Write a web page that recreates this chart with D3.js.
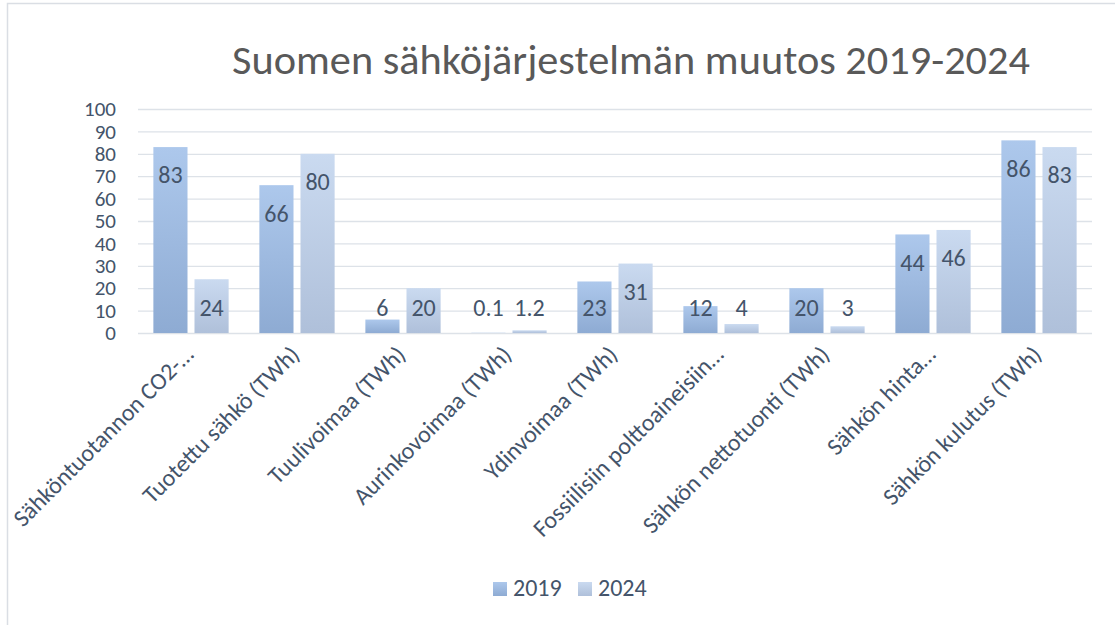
<!DOCTYPE html>
<html>
<head>
<meta charset="utf-8">
<script src="https://cdn.jsdelivr.net/npm/d3@7"></script>
<style>
  body { margin: 0; background: #fff; }
  text { font-family: Carlito, "Open Sans", sans-serif; }
</style>
</head>
<body>
<div id="chart"></div>
<script>
// data
let categories = [
    "Sähköntuotannon CO2-…",
    "Tuotettu sähkö (TWh)",
    "Tuulivoimaa (TWh)",
    "Aurinkovoimaa (TWh)",
    "Ydinvoimaa (TWh)",
    "Fossiilisiin polttoaineisiin…",
    "Sähkön nettotuonti (TWh)",
    "Sähkön hinta…",
    "Sähkön kulutus (TWh)"
]
let years = ["2019", "2024"]
let values2019 = [83, 66, 6, 0.1, 23, 12, 20, 44, 86]
let values2024 = [24, 80, 20, 1.2, 31, 4, 3, 46, 83]
let yTicks = [0, 10, 20, 30, 40, 50, 60, 70, 80, 90, 100]
let title = "Suomen sähköjärjestelmän muutos 2019-2024"

let W = 1115, H = 625
let margin = { top: 109, right: 23, bottom: 292, left: 138 },
    width = W - margin.left - margin.right,
    height = H - margin.top - margin.bottom

let textCol = "#44546a"

let svgRoot = d3.select("#chart")
    .append("svg")
    .attr("width", W)
    .attr("height", H)

// chart border (only left / top visible)
svgRoot.append("path")
    .attr("d", "M7.5," + H + "V3.5H" + W)
    .attr("fill", "none")
    .attr("stroke", "#dadee4")
    .attr("stroke-width", 1.5)

// gradients
let defs = svgRoot.append("defs")
let grads = { "2019": ["#adc8ec", "#8eabd3"], "2024": ["#cadaf0", "#afc0da"] }
years.forEach((yr) => {
    let g = defs.append("linearGradient")
        .attr("id", "g" + yr)
        .attr("x1", 0).attr("y1", 0).attr("x2", 0).attr("y2", 1)
    g.append("stop").attr("offset", "0%").attr("stop-color", grads[yr][0])
    g.append("stop").attr("offset", "100%").attr("stop-color", grads[yr][1])
})

// title
svgRoot.append("text")
    .attr("x", 631)
    .attr("y", 74)
    .attr("text-anchor", "middle")
    .attr("fill", "#595959")
    .style("font-size", "41px")
    .attr("textLength", 798)
    .attr("lengthAdjust", "spacingAndGlyphs")
    .text(title)

let svg = svgRoot.append("g")
    .attr("transform", "translate(" + margin.left + "," + margin.top + ")")

let x0 = d3.scaleBand()
    .domain(categories)
    .range([0, width])
    .paddingInner(0.29)
    .paddingOuter(0.145)

let x1 = d3.scaleBand()
    .domain(years)
    .range([0, x0.bandwidth()])
    .paddingInner(0.17)

let y = d3.scaleLinear()
    .domain([0, 100])
    .range([height, 0])

// gridlines + y labels
let yAxis = svg.append("g")
    .call(d3.axisLeft(y).tickValues(yTicks).tickSize(-width).tickPadding(22))
yAxis.select(".domain").remove()
yAxis.selectAll(".tick line")
    .attr("stroke", "#dde2e8")
    .attr("stroke-width", 1.3)
yAxis.selectAll(".tick text")
    .attr("fill", textCol)
    .style("font-size", "21px")

let rows = categories.map((c, i) => {
    return { cat: c, vals: [{ yr: "2019", v: values2019[i] }, { yr: "2024", v: values2024[i] }] }
})

let groups = svg.selectAll("g.cat")
    .data(rows)
    .enter()
    .append("g")
    .attr("class", "cat")
    .attr("transform", (d) => "translate(" + x0(d.cat) + ",0)")

groups.selectAll("rect")
    .data((d) => d.vals)
    .enter()
    .append("rect")
    .attr("x", (d) => x1(d.yr))
    .attr("width", x1.bandwidth())
    .attr("y", (d) => y(d.v))
    .attr("height", (d) => height - y(d.v))
    .attr("fill", (d) => "url(#g" + d.yr + ")")

// value labels (inside end, pushed up for short bars)
groups.selectAll("text.val")
    .data((d) => d.vals)
    .enter()
    .append("text")
    .attr("class", "val")
    .attr("x", (d) => x1(d.yr) + x1.bandwidth() / 2)
    .attr("y", (d) => Math.min(y(d.v) + 28, height - 25))
    .attr("dy", "0.35em")
    .attr("text-anchor", "middle")
    .attr("fill", textCol)
    .style("font-size", "24px")
    .text((d) => d.v)

// category labels, rotated
svg.selectAll("text.cat")
    .data(categories)
    .enter()
    .append("text")
    .attr("class", "cat")
    .attr("text-anchor", "end")
    .attr("transform", (d) => "translate(" + (x0(d) + x0.bandwidth() / 2 + 4) + "," + (height + 23) + ") rotate(-45)")
    .attr("fill", textCol)
    .style("font-size", "24px")
    .text((d) => d)

// legend
let legend = svgRoot.append("g")
    .attr("transform", "translate(493,582)")
legend.selectAll("g")
    .data(years)
    .enter()
    .append("g")
    .attr("transform", (d, i) => "translate(" + (i * 85) + ",0)")
    .each(function (d) {
        let g = d3.select(this)
        g.append("rect")
            .attr("width", 14).attr("height", 14)
            .attr("fill", "url(#g" + d + ")")
        g.append("text")
            .attr("x", 20).attr("y", 14)
            .attr("fill", textCol)
            .style("font-size", "24px")
            .text(d)
    })
</script>
</body>
</html>
